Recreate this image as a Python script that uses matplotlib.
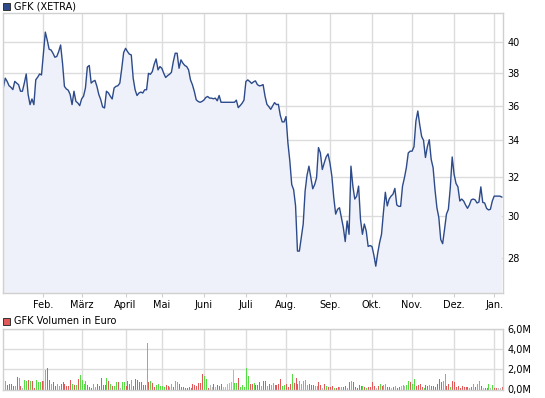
"""
GFK (XETRA) one-year price chart with daily volume panel.

Produces:
  out.png
"""

import matplotlib
matplotlib.use("Agg")
import matplotlib.pyplot as plt
from matplotlib.patches import Rectangle
from matplotlib.ticker import FixedLocator, NullLocator
import numpy as np

# ── Data (one value per XETRA trading day, Jan 2011 – early Jan 2012) ─────────

PRICE = [
    37.09, 37.70, 37.50, 37.23, 37.13, 36.99, 37.50, 37.39, 37.29, 36.89,
    36.89, 37.39, 37.96, 36.69, 36.08, 36.42, 36.08, 37.60, 37.76, 37.96,
    37.90, 39.29, 40.69, 40.15, 39.55, 39.50, 39.29, 39.03, 39.08, 39.40,
    39.83, 38.65, 37.19, 37.03, 36.95, 36.69, 36.08, 36.89, 36.28, 36.18,
    36.02, 36.42, 36.59, 37.09, 38.40, 38.50, 37.39, 37.50, 37.56, 37.19,
    36.69, 36.38, 35.94, 35.88, 36.89, 36.79, 36.59, 36.42, 37.09, 37.19,
    37.23, 37.39, 38.30, 39.33, 39.61, 39.40, 39.23, 39.18, 37.69, 36.98,
    36.63, 36.78, 36.84, 36.78, 36.98, 36.98, 38.00, 37.94, 38.11, 38.58,
    38.92, 38.22, 38.43, 38.32, 38.00, 37.74, 37.86, 37.94, 38.06, 38.75,
    39.29, 39.29, 38.32, 38.86, 38.65, 38.50, 38.43, 38.22, 37.59, 37.29,
    36.88, 36.37, 36.27, 36.22, 36.27, 36.35, 36.51, 36.57, 36.47, 36.47,
    36.43, 36.47, 36.31, 36.63, 36.22, 36.22, 36.22, 36.22, 36.22, 36.22,
    36.22, 36.22, 36.35, 35.90, 36.02, 36.16, 36.35, 37.49, 37.59, 37.49,
    37.37, 37.47, 37.53, 37.30, 37.22, 37.24, 37.30, 36.60, 36.10, 35.96,
    35.80, 36.00, 36.20, 36.08, 36.10, 35.45, 35.06, 35.06, 35.37, 33.86,
    32.86, 31.60, 31.33, 30.51, 28.30, 28.30, 28.95, 29.60, 31.26, 32.09,
    32.58, 31.96, 31.38, 31.60, 31.96, 33.60, 33.30, 32.40, 32.75, 33.08,
    33.25, 32.75, 32.05, 30.93, 30.09, 30.33, 30.41, 29.92, 29.43, 28.75,
    29.75, 29.10, 32.58, 31.52, 30.85, 31.00, 31.52, 29.83, 29.10, 29.60,
    29.26, 28.52, 28.56, 28.52, 28.11, 27.60, 28.20, 28.70, 29.10, 30.17,
    31.20, 30.50, 30.85, 31.00, 31.10, 31.40, 30.55, 30.48, 30.48, 31.52,
    31.96, 32.50, 33.30, 33.40, 33.40, 33.65, 35.10, 35.70, 34.90, 34.23,
    34.00, 33.05, 33.65, 34.04, 32.95, 32.50, 31.33, 30.41, 29.92, 28.85,
    28.65, 29.34, 30.09, 30.33, 31.43, 33.08, 32.14, 31.66, 31.48, 30.75,
    30.85, 30.75, 30.55, 30.38, 30.55, 30.81, 30.85, 30.81, 30.65, 30.70,
    31.48, 30.68, 30.65, 30.38, 30.30, 30.33, 30.75, 31.00, 31.00, 31.00,
    31.00, 30.95,
]

# Volume in million EUR, same trading days
VOLUME = [
    1.27, 0.83, 0.43, 0.53, 0.53, 0.37, 0.37, 1.27, 1.17, 0.37,
    0.10, 0.93, 0.83, 0.93, 0.83, 0.83, 0.17, 0.93, 0.77, 0.77,
    0.83, 0.83, 1.93, 2.17, 0.93, 0.50, 0.77, 0.37, 0.50, 0.37,
    0.50, 0.77, 0.53, 0.33, 0.37, 0.93, 0.50, 0.43, 0.43, 1.03,
    1.43, 0.93, 0.50, 0.83, 0.43, 0.27, 0.17, 0.50, 0.27, 0.50,
    0.37, 1.17, 0.43, 0.43, 1.17, 0.83, 0.53, 0.37, 0.37, 0.77,
    0.77, 0.10, 0.77, 0.70, 0.37, 0.83, 0.50, 0.93, 0.30, 1.03,
    0.93, 0.77, 0.77, 0.43, 0.43, 4.67, 0.77, 0.83, 0.60, 0.27,
    0.43, 0.53, 0.33, 0.33, 0.27, 0.43, 0.37, 0.27, 0.53, 0.27,
    0.83, 0.77, 0.50, 0.23, 0.23, 0.13, 0.13, 0.23, 0.17, 0.50,
    0.43, 0.37, 0.60, 0.60, 1.53, 1.37, 1.03, 0.10, 0.43, 0.23,
    0.50, 0.23, 0.43, 0.33, 0.50, 0.23, 0.23, 0.53, 0.60, 0.70,
    1.93, 0.60, 0.60, 1.17, 0.23, 0.43, 0.20, 2.17, 1.33, 0.50,
    0.53, 0.60, 0.43, 0.43, 0.70, 0.33, 0.83, 0.83, 0.33, 0.50,
    0.43, 0.60, 0.43, 0.43, 0.53, 1.03, 0.37, 0.43, 0.53, 0.27,
    0.50, 1.50, 0.60, 1.17, 0.53, 0.83, 0.53, 0.83, 0.93, 0.43,
    0.53, 0.43, 0.43, 0.37, 0.37, 0.70, 0.43, 0.10, 0.53, 0.33,
    0.27, 0.23, 0.33, 0.13, 0.13, 0.20, 0.23, 0.23, 0.23, 0.37,
    0.13, 0.70, 0.83, 0.77, 0.23, 0.10, 0.43, 0.33, 0.33, 0.23,
    0.17, 0.23, 0.27, 0.70, 0.37, 0.13, 0.33, 0.53, 0.33, 0.43,
    0.53, 0.27, 0.27, 0.13, 0.27, 0.37, 0.17, 0.27, 0.37, 0.43,
    0.33, 0.43, 0.83, 0.70, 0.50, 1.03, 0.30, 0.43, 0.53, 0.23,
    0.17, 0.43, 0.37, 0.43, 0.37, 0.37, 0.27, 0.53, 1.03, 0.70,
    0.83, 1.53, 0.33, 0.53, 0.27, 0.83, 0.70, 0.23, 0.33, 0.17,
    0.33, 0.23, 0.23, 0.23, 0.17, 0.23, 0.50, 0.23, 0.50, 0.83,
    0.37, 0.10, 0.17, 0.10, 0.50, 0.17, 0.43, 0.13, 0.10, 0.10,
    0.17, 0.27,
]
# r = down day, g = up day, n = unchanged (rows of 10 like VOLUME)
VOLUME_DIR = (
    "rgrrrrgrgr" "nggrgrrggg" "rggrrgrrgg" "rrrrrrgrgr" "ggggrrrggr"
    "rrrrgrgrgg" "rnggrrrgrr" "rrrrrgrgrr" "gggggrrggr" "ggrrrrrrrr"
    "rrrrrggrnn" "rnrrrnnnnn" "nggrgggggr" "rgrrrgrrgr" "ggrrrrggrr"
    "rgrrrggggg" "rrrggrrnrg" "rrrgrrggrr" "grgrrrrrgr" "grrrrnrgrg"
    "grrnrgrrng" "nggrggrrrr" "grrgrrrrrr" "ggrrgrrrrr" "rrrrgrgrgg"
    "rnrrgngrrn" "nr"
)

MONTH_LABELS = ["Feb.", "März", "April", "Mai", "Juni", "Juli", "Aug.",
                "Sep.", "Okt.", "Nov.", "Dez.", "Jan."]
MONTH_START = [21, 41, 64, 83, 105, 127, 148, 171, 193, 214, 236, 257]

PRICE_TICKS = [28, 30, 32, 34, 36, 38, 40]
VOLUME_TICKS = [0, 2, 4, 6]
VOLUME_TICK_LABELS = ["0,0M", "2,0M", "4,0M", "6,0M"]

# ── Style ─────────────────────────────────────────────────────────────────────

W, H = 545, 398
LINE = "#2d4b8b"
FILL = "#eef1f9"
GRID = "#dcdcdc"
FRAME = "#d0d0d0"
RED = "#e05858"
GREEN = "#55dd44"
GRAY = "#b8b8b8"
FS = 7

plt.rcParams.update({
    "font.family": "DejaVu Sans",
    "font.size": FS,
})


def fig_box(x0, y0, x1, y1):
    """pixel box (top-left origin) -> figure fraction rect"""
    return [x0 / W, 1 - y1 / H, (x1 - x0) / W, (y1 - y0) / H]


def style_axes(ax):
    for s in ax.spines.values():
        s.set_color(FRAME)
        s.set_linewidth(1)
    ax.set_xticks(MONTH_START)
    ax.grid(True, color=GRID, lw=1)
    ax.set_axisbelow(True)
    ax.yaxis.tick_right()
    ax.tick_params(axis="y", length=0, pad=3, labelsize=FS)
    ax.tick_params(axis="x", length=3, color=FRAME, pad=2, labelsize=FS)


def legend_key(fig, y, color, text):
    fig.add_artist(Rectangle((3 / W, 1 - (y + 4) / H), 7 / W, 7 / H,
                             transform=fig.transFigure, facecolor=color,
                             edgecolor="#333333", lw=0.7))
    fig.text(14 / W, 1 - (y + 0.5) / H, text, va="center", ha="left", fontsize=FS)


def main():
    price = np.array(PRICE)
    vol = np.array(VOLUME)
    idx = np.arange(len(price))

    fig = plt.figure(figsize=(W / 100, H / 100), dpi=100)

    # price panel
    ax = fig.add_axes(fig_box(3, 13, 503, 293))
    style_axes(ax)
    ax.fill_between(idx, price, 20, color=FILL, lw=0)
    ax.plot(idx, price, color=LINE, lw=1.0)
    ax.set_yscale("log")
    ax.set_ylim(26.4, 42.0)
    ax.yaxis.set_major_locator(FixedLocator(PRICE_TICKS))
    ax.yaxis.set_minor_locator(NullLocator())
    ax.set_yticklabels([str(t) for t in PRICE_TICKS])
    ax.set_xlim(-0.16, 261.6)
    ax.set_xticklabels(MONTH_LABELS)

    # volume panel: one-pixel bars
    vx = np.arange(len(vol))
    cmap = {"r": RED, "g": GREEN, "n": GRAY}
    colors = [cmap[c] for c in VOLUME_DIR[:len(vol)]]
    ax2 = fig.add_axes(fig_box(3, 329.3, 503, 389.5))
    style_axes(ax2)
    ax2.vlines(vx, 0, vol, colors=colors, lw=0.72, antialiased=False, snap=True)
    ax2.set_ylim(0, 6)
    ax2.set_yticks(VOLUME_TICKS)
    ax2.set_yticklabels(VOLUME_TICK_LABELS)
    ax2.set_xlim(-0.16, 261.6)
    ax2.set_xticklabels([])
    ax2.tick_params(axis="x", length=0)

    legend_key(fig, 6, LINE, "GFK (XETRA)")
    legend_key(fig, 321, RED, "GFK Volumen in Euro")

    fig.savefig("out.png", dpi=100)
    plt.close(fig)


if __name__ == "__main__":
    main()
